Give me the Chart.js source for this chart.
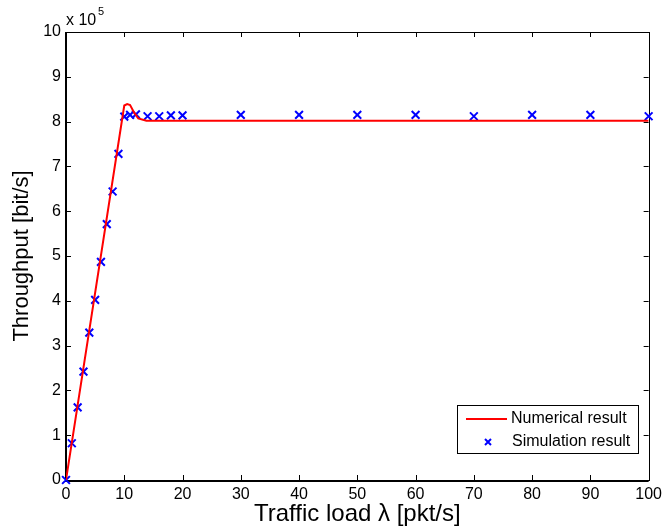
<!DOCTYPE html>
<html>
<head>
<meta charset="utf-8">
<script src="https://cdn.jsdelivr.net/npm/chart.js@4.4.1/dist/chart.umd.min.js"></script>
<style>
  html, body { margin: 0; padding: 0; background: #fff; }
  canvas { display: block; }
</style>
</head>
<body>
<canvas id="thr" width="667" height="532"></canvas>
<script>
// simulation points (traffic load in pkt/s, throughput in bit/s)
const simLoad = [0, 1, 2, 3, 4, 5, 6, 7, 8, 9, 10, 11, 12, 14, 16, 18, 20, 30, 40, 50, 60, 70, 80, 90, 100];
const simThroughput = [0, 82000, 162000, 242000, 329000, 402000, 487000, 571000, 644000, 728000, 811000, 815000, 816000,
    812000, 812000, 814000, 814000, 815000, 815000, 815000, 815000, 812000, 815000, 815000, 812000];

// numerical curve
const numLoad = [0, 10.0, 10.5, 11.0, 11.7, 12.4, 13.8, 100];
const numThroughput = [0, 836000, 839000, 837000, 820000, 807000, 802000, 802000];

const xTicks = [0, 10, 20, 30, 40, 50, 60, 70, 80, 90, 100];
const yTicks = [0, 1, 2, 3, 4, 5, 6, 7, 8, 9, 10]; // x 10^5

const fontFam = '"Liberation Sans", Arial, Helvetica, sans-serif';

function toPts(xs, ys) {
    return xs.map((v, i) => ({ x: v, y: ys[i] }));
}

// box, inward ticks, exponent, legend - matlab look
const matlabBits = {
    id: 'matlabBits',
    beforeDatasetsDraw(chart) {
        const { ctx, chartArea: a, scales: { x, y } } = chart;
        ctx.save();
        ctx.strokeStyle = '#000';
        ctx.lineWidth = 1;
        ctx.beginPath();
        x.ticks.forEach(t => {
            const px = Math.round(x.getPixelForValue(t.value)) + 0.5;
            ctx.moveTo(px, a.bottom); ctx.lineTo(px, a.bottom - 5);
            ctx.moveTo(px, a.top); ctx.lineTo(px, a.top + 5);
        });
        y.ticks.forEach(t => {
            const py = Math.round(y.getPixelForValue(t.value)) + 0.5;
            ctx.moveTo(a.left, py); ctx.lineTo(a.left + 5, py);
            ctx.moveTo(a.right, py); ctx.lineTo(a.right - 5, py);
        });
        ctx.stroke();
        ctx.strokeRect(Math.round(a.left) + 0.5, Math.round(a.top) + 0.5, Math.round(a.width), Math.round(a.height));
        // heavier left / bottom
        ctx.lineWidth = 2;
        ctx.beginPath();
        ctx.moveTo(Math.round(a.left), a.top); ctx.lineTo(Math.round(a.left), a.bottom + 1);
        ctx.lineTo(a.right, a.bottom + 1);
        ctx.stroke();
        ctx.restore();
    },
    afterDraw(chart) {
        const { ctx, chartArea: a } = chart;
        ctx.save();
        ctx.fillStyle = '#000';
        ctx.textBaseline = 'alphabetic';
        ctx.textAlign = 'left';
        ctx.font = '16px ' + fontFam;
        ctx.fillText('x 10', a.left, a.top - 7);
        ctx.font = '11px ' + fontFam;
        ctx.fillText('5', a.left + 32, a.top - 17);

        // legend
        const lx = 457.5, ly = 405.5, lw = 181, lh = 48;
        ctx.fillStyle = '#fff';
        ctx.fillRect(lx, ly, lw, lh);
        ctx.strokeStyle = '#000';
        ctx.lineWidth = 1;
        ctx.strokeRect(lx, ly, lw, lh);
        ctx.strokeStyle = '#ff0000';
        ctx.lineWidth = 2;
        ctx.beginPath();
        ctx.moveTo(466, 419); ctx.lineTo(507, 419);
        ctx.stroke();
        ctx.strokeStyle = '#0000ff';
        ctx.lineWidth = 2;
        ctx.beginPath();
        ctx.moveTo(485, 439); ctx.lineTo(491, 445);
        ctx.moveTo(491, 439); ctx.lineTo(485, 445);
        ctx.stroke();
        ctx.fillStyle = '#000';
        ctx.font = '16px ' + fontFam;
        ctx.textBaseline = 'middle';
        ctx.fillText('Numerical result', 511, 419);
        ctx.fillText('Simulation result', 512, 442);
        ctx.restore();
    }
};

new Chart(document.getElementById('thr').getContext('2d'), {
    type: 'scatter',
    data: {
        datasets: [
            {
                label: 'Numerical result',
                data: toPts(numLoad, numThroughput),
                showLine: true,
                borderColor: '#ff0000',
                borderWidth: 2,
                pointRadius: 0,
                tension: 0
            },
            {
                label: 'Simulation result',
                data: toPts(simLoad, simThroughput),
                showLine: false,
                pointStyle: 'crossRot',
                pointRadius: 5.5,
                pointBorderWidth: 2,
                borderColor: '#0000ff',
                backgroundColor: '#0000ff',
                clip: false
            }
        ]
    },
    plugins: [matlabBits],
    options: {
        responsive: false,
        animation: false,
        devicePixelRatio: 1,
        layout: { padding: { top: 32, right: 15, left: 0, bottom: 0 } },
        plugins: { legend: { display: false }, tooltip: { enabled: false } },
        scales: {
            x: {
                type: 'linear',
                min: 0, max: 100,
                afterFit: s => { s.height = 52; },
                afterBuildTicks: s => { s.ticks = xTicks.map(v => ({ value: v })); },
                grid: { display: false, drawTicks: false },
                border: { display: false },
                ticks: { color: '#000', padding: 5, maxRotation: 0, font: { family: fontFam, size: 16 } },
                title: {
                    display: true, text: 'Traffic load λ [pkt/s]', color: '#000',
                    font: { family: fontFam, size: 24 }, padding: { top: 0, bottom: 3 }
                }
            },
            y: {
                type: 'linear',
                min: 0, max: 1000000,
                afterFit: s => { s.width = 66; },
                afterBuildTicks: s => { s.ticks = yTicks.map(v => ({ value: v * 100000 })); },
                grid: { display: false, drawTicks: false },
                border: { display: false },
                ticks: {
                    color: '#000', padding: 5, font: { family: fontFam, size: 16 },
                    callback: v => String(Math.round(v / 100000))
                },
                title: {
                    display: true, text: 'Throughput [bit/s]', color: '#000',
                    font: { family: fontFam, size: 22 }, padding: { top: 9, bottom: 0 }
                }
            }
        }
    }
});
</script>
</body>
</html>
